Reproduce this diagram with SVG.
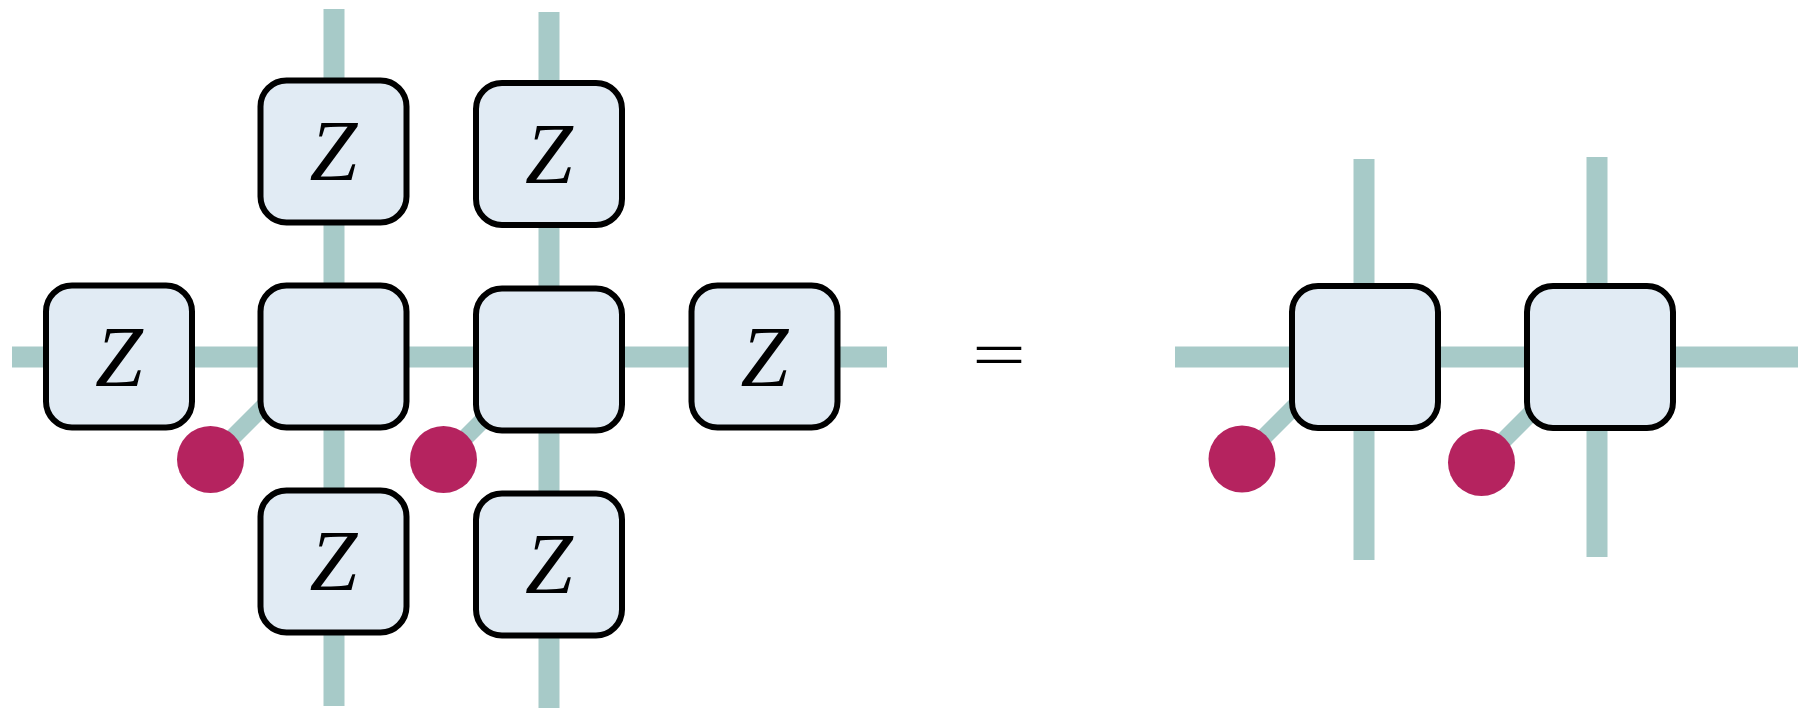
<svg xmlns="http://www.w3.org/2000/svg" width="1798" height="708" viewBox="0 0 1798 708">
  <style>
    .leg { stroke: #a7cac8; stroke-width: 21; fill: none; }
    .diag { stroke: #a7cac8; stroke-width: 17; fill: none; }
    .box { fill: #e1ebf4; stroke: #000; stroke-width: 6; }
    .dot { fill: #b5235f; }
    .z { font-family: "Liberation Serif", serif; font-style: italic; font-size: 86px; text-anchor: middle; fill: #000; }
    .eq { font-family: "Liberation Serif", serif; font-size: 66px; text-anchor: middle; fill: #000; }
  </style>
  <rect width="1798" height="708" fill="#fff"/>
  <g id="connectors">
    <line class="leg" x1="12" y1="357" x2="887" y2="357"/>
    <line class="leg" x1="334" y1="9" x2="334" y2="706"/>
    <line class="leg" x1="549" y1="12" x2="549" y2="708"/>
    <line class="diag" x1="210.5" y1="459.5" x2="275" y2="395"/>
    <line class="diag" x1="443.5" y1="459.5" x2="490" y2="413"/>
    <line class="leg" x1="1175" y1="357" x2="1798" y2="357"/>
    <line class="leg" x1="1364" y1="159" x2="1364" y2="560"/>
    <line class="leg" x1="1597" y1="157" x2="1597" y2="557"/>
    <line class="diag" x1="1242" y1="459" x2="1302" y2="399"/>
    <line class="diag" x1="1481.5" y1="462.5" x2="1535" y2="409"/>
  </g>
  <g id="z-left"><rect class="box" x="46" y="285.5" width="146" height="142" rx="26"/><text class="z" x="119" y="386">Z</text></g>
  <g id="z-top1"><rect class="box" x="260.5" y="80.5" width="146" height="142" rx="26"/><text class="z" x="333.5" y="180">Z</text></g>
  <g id="t1"><rect class="box" x="260.5" y="285.5" width="146" height="142" rx="26"/></g>
  <g id="z-bot1"><rect class="box" x="260.5" y="490.5" width="146" height="142" rx="26"/><text class="z" x="333.5" y="590">Z</text></g>
  <g id="z-top2"><rect class="box" x="476" y="83" width="146" height="142" rx="26"/><text class="z" x="549" y="182.5">Z</text></g>
  <g id="t2"><rect class="box" x="476" y="288.5" width="146" height="142" rx="26"/></g>
  <g id="z-bot2"><rect class="box" x="476" y="493.5" width="146" height="142" rx="26"/><text class="z" x="549" y="593">Z</text></g>
  <g id="z-right"><rect class="box" x="691.5" y="285.5" width="146" height="142" rx="26"/><text class="z" x="764.5" y="386">Z</text></g>
  <g id="dot1"><circle class="dot" cx="210.5" cy="459.5" r="33.5"/></g>
  <g id="dot2"><circle class="dot" cx="443.5" cy="459.5" r="33.5"/></g>
  <g id="equals"><text class="eq" transform="translate(999,377) scale(1.45,1)" x="0" y="0">=</text></g>
  <g id="r1"><rect class="box" x="1292" y="286" width="146" height="142" rx="26"/></g>
  <g id="r2"><rect class="box" x="1527" y="286" width="146" height="142" rx="26"/></g>
  <g id="dot3"><circle class="dot" cx="1242" cy="459" r="33.5"/></g>
  <g id="dot4"><circle class="dot" cx="1481.5" cy="462.5" r="33.5"/></g>
</svg>
